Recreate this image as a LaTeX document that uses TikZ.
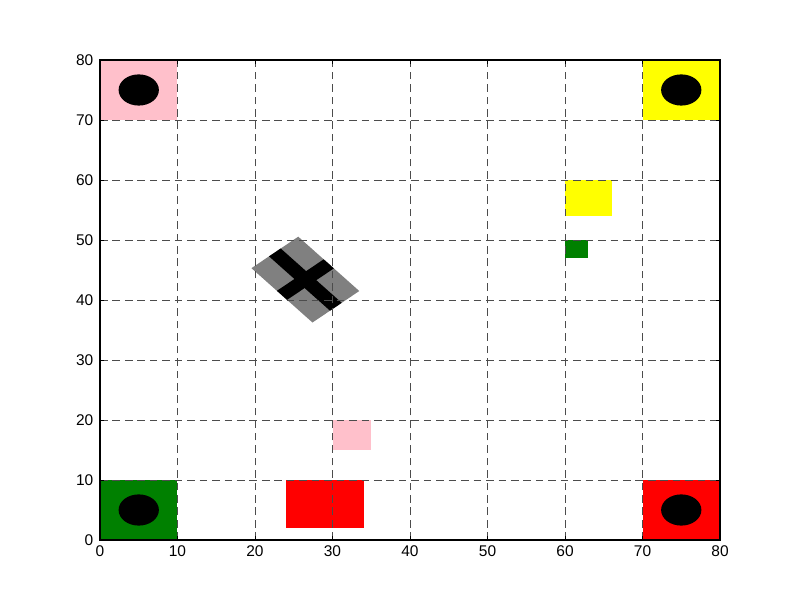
\documentclass[tikz,border=0pt]{standalone}
\usepackage{fontspec}
\setmainfont{Liberation Sans}

\definecolor{zonepink}{HTML}{FFC0CB}
\definecolor{zonegreen}{HTML}{008000}
\definecolor{zoneyellow}{HTML}{FFFF00}
\definecolor{zonered}{HTML}{FF0000}
\definecolor{robotgray}{HTML}{808080}

\begin{document}
\begin{tikzpicture}[x=0.19685cm,y=0.1524cm,
    gridline/.style={black!70, line width=0.5pt, dash pattern=on 5.5pt off 3.5pt},
    ticklabel/.style={font=\fontsize{11.2}{13}\selectfont, inner sep=0pt},
    marker/.style={fill=black}]
    \useasboundingbox (-12.903,-10) rectangle (90.323,90);

    % corner zones and their markers
    \fill[zonepink] (0,70) rectangle (10,80);
    \fill[zoneyellow] (70,70) rectangle (80,80);
    \fill[zonegreen] (0,0) rectangle (10,10);
    \fill[zonered] (70,0) rectangle (80,10);
    \fill[marker] (5,75) ellipse [x radius=2.6, y radius=2.6];
    \fill[marker] (75,75) ellipse [x radius=2.6, y radius=2.6];
    \fill[marker] (5,5) ellipse [x radius=2.6, y radius=2.6];
    \fill[marker] (75,5) ellipse [x radius=2.6, y radius=2.6];

    % blocks
    \fill[zonered] (24,2) rectangle (34,10);
    \fill[zonepink] (30,15) rectangle (35,20);
    \fill[zoneyellow] (60,54) rectangle (66,60);
    \fill[zonegreen] (60,47) rectangle (63,50);

    % robot
    \coordinate (R1) at (33.455,41.496);
    \coordinate (R2) at (27.417,36.248);
    \coordinate (R3) at (19.545,45.304);
    \coordinate (R4) at (25.583,50.552);
    \coordinate (A1) at (31.191,39.528);
    \coordinate (A2) at (29.681,38.216);
    \coordinate (A3) at (21.809,47.272);
    \coordinate (A4) at (23.319,48.584);
    \coordinate (B1) at (30.175,45.269);
    \coordinate (B2) at (24.137,40.021);
    \coordinate (B3) at (22.825,41.531);
    \coordinate (B4) at (28.863,46.779);
    \fill[robotgray] (R1)--(R2)--(R3)--(R4)--cycle;
    \fill[black] (A1)--(A2)--(A3)--(A4)--cycle;
    \fill[black] (B1)--(B2)--(B3)--(B4)--cycle;

    % grid, ticks and frame
    \foreach \v in {10,20,...,70} {
        \draw[gridline] (\v,0) -- (\v,80);
        \draw[gridline] (0,\v) -- (80,\v);
    }
    \foreach \v in {0,10,...,80} {
        \draw[line width=0.5pt] (\v,0) -- ++(0,0.6) (\v,80) -- ++(0,-0.6);
        \draw[line width=0.5pt] (0,\v) -- ++(0.5,0) (80,\v) -- ++(-0.5,0);
        \node[ticklabel, anchor=north, yshift=-4pt] (xl\v) at (\v,0) {\v};
        \node[ticklabel, anchor=east, xshift=-4.6pt] (yl\v) at (0,\v) {\v};
    }
    \draw[line width=0.75pt] (0,0) rectangle (80,80);
\end{tikzpicture}
\end{document}
